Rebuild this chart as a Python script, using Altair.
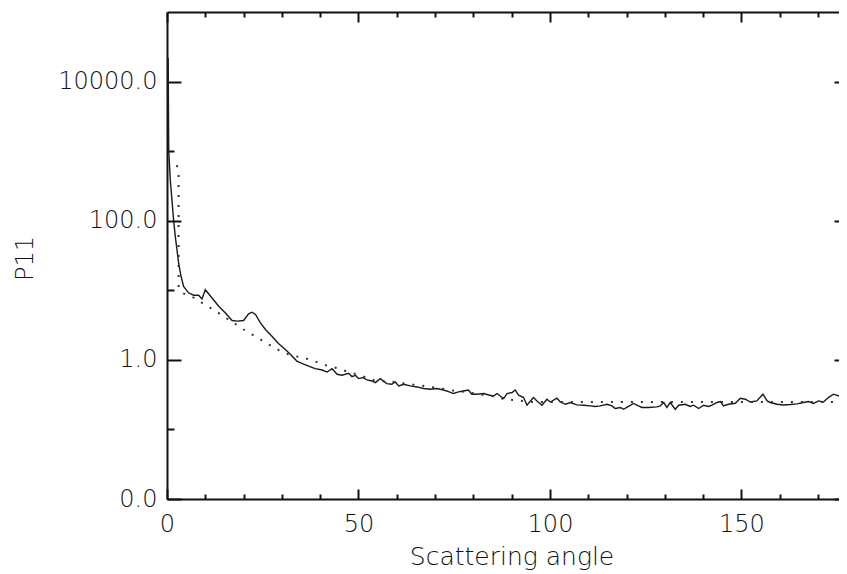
import altair as alt
import pandas as pd

# ---- data ----
solid_angle = [0.3, 0.45, 0.86, 1.72, 2.17, 2.61, 3.03, 3.66, 4.33, 5.64, 6.95, 8.25, 9.14, 10.0,
               11.7, 13.5, 15.2, 17.0, 18.3, 20.0, 21.3, 22.2, 23.1, 24.4, 25.7, 27.4, 29.1, 30.9,
               32.2, 33.9, 35.2, 37.0, 38.7, 40.5, 41.8, 43.1, 44.4, 45.7, 47.4, 48.3, 49.2, 50.0,
               51.3, 52.2, 53.5, 54.4, 55.7, 57.4, 58.7, 59.6, 60.5, 61.8, 63.5, 65.3, 67.0, 68.7,
               70.5, 72.2, 73.5, 74.8, 76.1, 77.4, 78.7, 79.6, 80.9, 82.7, 84.0, 85.3, 86.2, 87.0,
               87.9, 88.8, 90.1, 90.9, 91.8, 93.1, 94.0, 94.9, 95.7, 96.6, 97.9, 99.2, 100.1, 101.8,
               102.7, 104.0, 105.3, 107.0, 108.8, 110.5, 111.8, 113.1, 114.9, 116.2, 117.0, 118.4,
               119.2, 120.5, 121.8, 123.1, 124.0, 125.7, 127.9, 128.8, 129.7, 130.5, 131.4, 132.7,
               133.6, 135.3, 136.6, 137.5, 138.8, 140.1, 141.4, 142.3, 143.6, 144.5, 145.3, 146.6,
               148.4, 149.7, 151.0, 152.3, 154.0, 155.6, 156.7, 157.5, 159.3, 161.0, 162.7, 164.5,
               166.2, 167.5, 168.8, 170.1, 171.4, 172.7, 174.0, 175.4, 176.7, 177.5, 180.0]
solid_p11 = [22000, 1040, 386, 103, 59, 38, 24.7, 15.9, 11.4, 9.2, 8.5, 8.5, 7.5, 10.2,
             7.8, 5.9, 4.75, 3.68, 3.60, 3.68, 4.59, 4.84, 4.49, 3.41, 2.73, 2.19, 1.72, 1.41,
             1.2, 0.96, 0.89, 0.815, 0.748, 0.714, 0.668, 0.748, 0.62, 0.60, 0.64, 0.574, 0.600, 0.538,
             0.556, 0.514, 0.497, 0.471, 0.538, 0.456, 0.446, 0.481, 0.422, 0.446, 0.422, 0.408, 0.387, 0.378,
             0.387, 0.369, 0.350, 0.328, 0.346, 0.357, 0.369, 0.321, 0.321, 0.328, 0.313, 0.303, 0.328, 0.303,
             0.278, 0.328, 0.339, 0.369, 0.310, 0.287, 0.223, 0.257, 0.287, 0.257, 0.223, 0.272, 0.248, 0.281,
             0.248, 0.230, 0.244, 0.225, 0.223, 0.218, 0.214, 0.218, 0.230, 0.218, 0.200, 0.207,
             0.195, 0.214, 0.236, 0.218, 0.207, 0.207, 0.211, 0.218, 0.244, 0.207, 0.244, 0.195,
             0.223, 0.230, 0.214, 0.223, 0.200, 0.223, 0.214, 0.223, 0.244, 0.252, 0.218, 0.230,
             0.238, 0.281, 0.272, 0.248, 0.257, 0.321, 0.257, 0.244, 0.230, 0.225, 0.228, 0.233,
             0.244, 0.252, 0.236, 0.257, 0.248, 0.287, 0.321, 0.303, 0.328, 0.331, 0.33]

model_angle = [2.6, 3.03, 3.03, 4.3, 6.95, 9.14, 11.3, 13.5, 15.7, 17.8, 20.0, 22.5, 24.8, 27.0,
               29.3, 31.7, 34.4, 37.0, 39.6, 42.2, 44.4, 47.0, 49.6, 52.0, 54.6, 57.1, 59.6, 62.2,
               64.8, 67.4, 70.0, 72.7, 75.3, 77.9, 80.5, 83.1, 85.7, 88.3, 90.7, 94.9, 180.0]
model_p11 = [630, 450, 10.9, 9.0, 7.86, 6.6, 5.6, 4.7, 3.9, 3.3, 2.73, 2.27, 1.90, 1.61,
             1.37, 1.2, 1.10, 1.02, 0.91, 0.81, 0.76, 0.68, 0.62, 0.556, 0.50, 0.49, 0.48, 0.456,
             0.435, 0.42, 0.40, 0.378, 0.357, 0.346, 0.328, 0.31, 0.297, 0.27, 0.265, 0.248, 0.248]

x_domain = [0, 175.46]
y_domain = [0.01, 100000]
x_label_values = [0, 50, 100, 150]
x_tick_values = list(range(0, 180, 10))
y_label_values = [0.01, 1, 100, 10000]
y_tick_values = [0.01, 0.1, 1, 10, 100, 1000, 10000]

solid = pd.DataFrame({"angle": solid_angle, "p11": solid_p11})
model = pd.DataFrame({"angle": model_angle, "p11": model_p11})

W, H = 672, 487
FONT = "DejaVu Sans"
INK = "#111111"
TXT = "#111111"

xs = alt.Scale(domain=x_domain, nice=False, zero=False)
ys = alt.Scale(type="log", domain=y_domain, nice=False)

x_tick_size = {"condition": {"test": "datum.value % 50 === 0", "value": 10}, "value": 5}
y_tick_size = {"condition": {"test": "round(log(datum.value)/LN10) % 2 === 0", "value": 14}, "value": 7}

common = dict(grid=False, domainColor=INK, domainWidth=2, tickColor=INK, tickWidth=2)

# layer 1: solid curve, labelled axes
l1 = alt.Chart(solid).mark_line(color="#1a1a1a", strokeWidth=1.4, clip=True).encode(
    x=alt.X("angle:Q", scale=xs, axis=alt.Axis(
        orient="bottom", values=x_label_values, ticks=False, tickSize=0, domain=False,
        labelPadding=13, labelFont=FONT, labelFontSize=24, labelFontWeight=200, labelColor=TXT,
        labelFlush=False, labelOverlap=False, format="d", grid=False,
        title="Scattering angle", titleFont=FONT, titleFontSize=25, titleFontWeight=200,
        titleColor=TXT, titleX=344.5, titleY=65, titleBaseline="alphabetic", titleAlign="center")),
    y=alt.Y("p11:Q", scale=ys, axis=alt.Axis(
        orient="left", values=y_label_values, ticks=False, tickSize=0, domain=False,
        labelPadding=10, labelFont=FONT, labelFontSize=24, labelFontWeight=200, labelColor=TXT,
        labelFlush=False, labelOverlap=False, format=".1f", grid=False,
        title="P11", titleFont=FONT, titleFontSize=24, titleFontWeight=200, titleColor=TXT,
        titleX=-135, titleY=246, titleBaseline="alphabetic", titleAlign="center")),
)

# layer 2: dotted model curve, top-edge and left-edge inward ticks
l2 = alt.Chart(model).mark_line(color="#333333", strokeWidth=2, strokeDash=[2, 8], clip=True).encode(
    x=alt.X("angle:Q", scale=xs, axis=alt.Axis(
        orient="bottom", offset=-H, values=x_tick_values, labels=False, tickSize=x_tick_size,
        domain=True, title="", **common)),
    y=alt.Y("p11:Q", scale=ys, axis=alt.Axis(
        orient="right", offset=-W, values=y_tick_values, labels=False, tickSize=y_tick_size,
        domain=True, title="", **common)),
)

# layer 3: invisible carrier for bottom-edge and right-edge inward ticks
l3 = alt.Chart(solid).mark_line(opacity=0, clip=True).encode(
    x=alt.X("angle:Q", scale=xs, axis=alt.Axis(
        orient="top", offset=-H, values=x_tick_values, labels=False, tickSize=x_tick_size,
        domain=True, title="", **common)),
    y=alt.Y("p11:Q", scale=ys, axis=alt.Axis(
        orient="left", offset=-W, values=y_label_values, labels=False, tickSize=5,
        domain=False, title="", **common)),
)

chart = alt.layer(l1, l2, l3).resolve_axis(x="independent", y="independent").properties(
    width=W, height=H,
    autosize=alt.AutoSizeParams(type="none"),
    padding={"left": 159, "top": 4, "right": 0, "bottom": 74},
    background="white",
).configure_view(strokeWidth=0)

chart.save("out.html", embed_options={"renderer": "svg", "actions": False})
